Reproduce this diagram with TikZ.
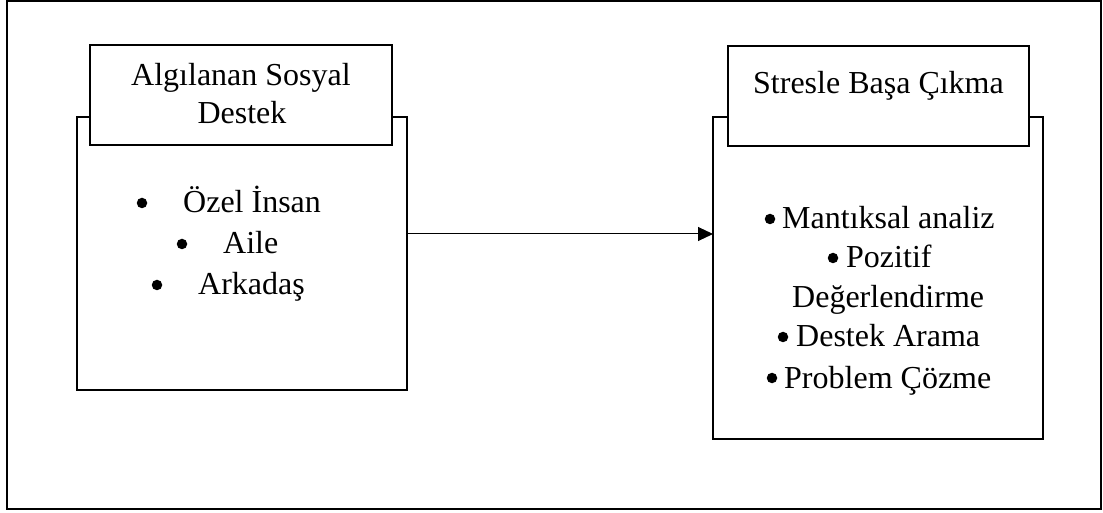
\documentclass[tikz,border=0pt]{standalone}
\usepackage{fontspec}
\setmainfont{Liberation Serif}
\usetikzlibrary{arrows.meta}
\begin{document}
\begin{tikzpicture}[x=1bp,y=-1bp,
  frame/.style={draw, line width=2bp},
  box/.style={draw, line width=2bp, fill=white, inner sep=0pt, outer sep=0pt},
  txt/.style={anchor=base west, inner sep=0pt, font=\fontsize{32bp}{40bp}\selectfont},
  ctxt/.style={anchor=base, inner sep=0pt, font=\fontsize{32bp}{40bp}\selectfont},
  dot/.style={circle, fill=black, inner sep=0pt, minimum size=10.5bp},
  link/.style={line width=1bp, -{Triangle[length=15bp,width=14bp]}}]
\useasboundingbox (0,0) rectangle (1103,513);
\draw[frame] (7,1) rectangle (1101,509);
% left
\node[box, minimum width=330bp, minimum height=273bp] (lbody) at (242,253.5) {};
\node[box, minimum width=302bp, minimum height=100bp] (lhead) at (241,95) {};
\node[ctxt] (lh1) at (241,86) {Algılanan Sosyal};
\node[ctxt] (lh2) at (242,124) {Destek};
\node[dot] (lb1) at (142,203) {};
\node[txt] (li1) at (183,213) {Özel İnsan};
\node[dot] (lb2) at (182,244) {};
\node[txt] (li2) at (223,254) {Aile};
\node[dot] (lb3) at (157,285) {};
\node[txt] (li3) at (198,295) {Arkadaş};
% right
\node[box, minimum width=330bp, minimum height=322bp] (rbody) at (878,278) {};
\node[box, minimum width=301bp, minimum height=100bp] (rhead) at (878.5,96) {};
\node[ctxt] (rh1) at (878.5,94) {Stresle Başa Çıkma};
\node[dot] (rb1) at (770,219) {};
\node[txt] (ri1) at (782,229) {Mantıksal analiz};
\node[dot] (rb2) at (833,258) {};
\node[txt] (ri2) at (846,268) {Pozitif};
\node[txt] (ri2b) at (792,308) {Değerlendirme};
\node[dot] (rb3) at (783,337) {};
\node[txt] (ri3) at (796,347) {Destek Arama};
\node[dot] (rb4) at (772,378) {};
\node[txt] (ri4) at (784,388) {Problem Çözme};
% connector
\coordinate (ay) at (0,234);
\draw[link] (lbody.east |- ay) -- (rbody.west |- ay);
\end{tikzpicture}
\end{document}
